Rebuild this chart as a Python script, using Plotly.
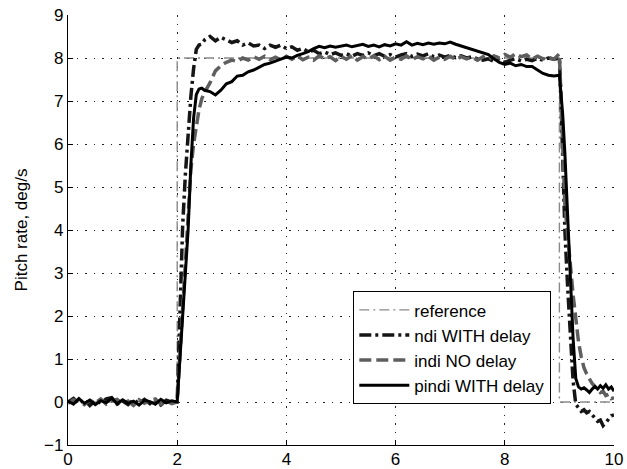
import plotly.graph_objects as go

# time base (s)
t = [0.0, 0.1, 0.2, 0.3, 0.4, 0.5, 0.6, 0.7, 0.8, 0.9,
     1.0, 1.1, 1.2, 1.3, 1.4, 1.5, 1.6, 1.7, 1.8, 1.9,
     2.0, 2.05, 2.1, 2.15, 2.2, 2.25, 2.3, 2.35, 2.4, 2.45, 2.5,
     2.6, 2.7, 2.8, 2.9, 3.0, 3.1, 3.2, 3.3, 3.4, 3.5, 3.6, 3.7, 3.8, 3.9,
     4.0, 4.1, 4.2, 4.3, 4.4, 4.5, 4.6, 4.7, 4.8, 4.9,
     5.0, 5.1, 5.2, 5.3, 5.4, 5.5, 5.6, 5.7, 5.8, 5.9,
     6.0, 6.1, 6.2, 6.3, 6.4, 6.5, 6.6, 6.7, 6.8, 6.9,
     7.0, 7.1, 7.2, 7.3, 7.4, 7.5, 7.6, 7.7, 7.8, 7.9,
     8.0, 8.1, 8.2, 8.3, 8.4, 8.5, 8.6, 8.7, 8.8, 8.9,
     9.0, 9.03, 9.06, 9.1, 9.15, 9.2, 9.25, 9.3, 9.35, 9.4, 9.45, 9.5,
     9.55, 9.6, 9.65, 9.7, 9.75, 9.8, 9.85, 9.9, 9.95, 10.0]

# reference command
t_ref = [0.0, 2.0, 2.0, 9.0, 9.0, 10.0]
q_ref = [0.0, 0.0, 8.0, 8.0, 0.0, 0.0]

# ndi WITH delay
q_ndi = [0.0, 0.08, -0.04, 0.06, -0.08, 0.03, -0.02, 0.07, 0.1, -0.05,
         0.02, -0.06, 0.05, -0.03, 0.06, -0.04, 0.03, -0.07, 0.04, 0.0,
         0.0, 2.0, 4.1, 5.3, 6.3, 7.1, 7.75, 8.2, 8.3, 8.32, 8.42,
         8.5, 8.4, 8.48, 8.42, 8.36, 8.4, 8.3, 8.35, 8.28, 8.3, 8.22, 8.3, 8.25, 8.3,
         8.22, 8.26, 8.18, 8.22, 8.15, 8.18, 8.1, 8.14, 8.08, 8.12,
         8.06, 8.1, 8.04, 8.1, 8.06, 8.12, 8.05, 8.1, 8.04, 8.08,
         8.02, 8.07, 8.1, 8.04, 8.09, 8.05, 8.1, 8.03, 8.07, 8.02,
         8.06, 8.01, 8.05, 8.0, 8.03, 7.98, 7.95, 7.98, 7.92, 7.96,
         7.9, 7.95, 7.98, 7.93, 7.97, 7.94, 7.99, 7.95, 8.0, 7.97,
         8.0, 7.0, 5.6, 4.0, 2.7, 1.5, 0.5, -0.05, -0.15, -0.22, -0.18, -0.25,
         -0.22, -0.3, -0.38, -0.45, -0.42, -0.55, -0.48, -0.4, -0.32, -0.3]

# indi NO delay
q_indi = [-0.03, 0.05, 0.02, -0.06, 0.04, -0.02, 0.07, -0.05, 0.03, 0.06,
          -0.04, 0.02, -0.08, 0.05, -0.03, 0.04, 0.07, -0.05, 0.02, -0.04,
          0.0, 1.1, 2.3, 3.4, 4.5, 5.4, 6.0, 6.45, 6.8, 7.05, 7.2,
          7.42, 7.7, 7.82, 7.9, 7.95, 7.92, 8.0, 7.95, 8.03, 7.97, 8.04, 7.96, 8.02, 7.95,
          8.04, 7.97, 8.05, 7.96, 8.02, 7.95, 8.05, 7.98, 8.03, 7.94,
          8.04, 7.97, 8.06, 7.95, 8.03, 7.98, 8.05, 7.96, 8.04, 7.95,
          8.02, 7.97, 8.05, 7.96, 8.03, 7.98, 8.04, 7.95, 8.02, 7.97,
          8.04, 7.96, 8.03, 7.98, 8.02, 7.95, 8.03, 7.97, 8.05, 8.0,
          8.08, 8.02, 8.1, 8.03, 8.07, 7.98, 8.04, 7.98, 8.02, 7.97,
          8.1, 6.9, 5.6, 4.6, 3.9, 3.1, 2.5, 1.95, 1.4, 1.05, 0.8, 0.65,
          0.52, 0.43, 0.36, 0.3, 0.22, 0.25, 0.15, 0.18, 0.08, 0.1]

# pindi WITH delay
q_pindi = [0.02, -0.05, 0.08, -0.03, 0.04, -0.06, 0.03, -0.02, 0.09, -0.04,
           0.05, -0.03, 0.02, -0.07, 0.04, 0.01, -0.05, 0.06, -0.02, 0.03,
           0.0, 0.9, 2.0, 3.0, 4.0, 5.5, 6.6, 7.15, 7.28, 7.3, 7.25,
           7.22, 7.14, 7.25, 7.4, 7.45, 7.58, 7.6, 7.68, 7.72, 7.78, 7.85, 7.88, 7.93, 7.98,
           8.02, 8.0, 8.06, 8.1, 8.15, 8.22, 8.27, 8.24, 8.28, 8.25,
           8.27, 8.3, 8.26, 8.29, 8.32, 8.27, 8.3, 8.26, 8.31, 8.28,
           8.33, 8.3, 8.38, 8.3, 8.34, 8.31, 8.35, 8.32, 8.35, 8.33,
           8.37, 8.32, 8.28, 8.25, 8.2, 8.16, 8.12, 8.08, 7.98, 7.9,
           7.85, 7.88, 7.82, 7.85, 7.8, 7.8, 7.72, 7.64, 7.6, 7.58,
           7.6, 7.2, 6.7, 5.8, 4.3, 2.85, 1.5, 0.55, 0.35, 0.3, 0.33, 0.28,
           0.22, 0.3, 0.36, 0.3, 0.38, 0.32, 0.4, 0.3, 0.35, 0.25]

x_ticks = [0, 2, 4, 6, 8, 10]
y_ticks = [-1, 0, 1, 2, 3, 4, 5, 6, 7, 8, 9]
y_title = "Pitch rate, deg/s"

FONT = "Liberation Sans, Arial, Helvetica, sans-serif"

fig = go.Figure()
fig.add_trace(go.Scatter(x=t_ref, y=q_ref, mode="lines", name="reference",
                         line=dict(color="#8a8a8a", width=1.4, dash="10px,4px,2px,4px")))
fig.add_trace(go.Scatter(x=t, y=q_ndi, mode="lines", name="ndi WITH delay",
                         line=dict(color="#151515", width=3.5, dash="12px,4px,3px,4px")))
fig.add_trace(go.Scatter(x=t, y=q_indi, mode="lines", name="indi NO delay",
                         line=dict(color="#5e5e5e", width=3.5, dash="12px,5px")))
fig.add_trace(go.Scatter(x=t, y=q_pindi, mode="lines", name="pindi WITH delay",
                         line=dict(color="#000000", width=3)))

grid = dict(showgrid=True, gridcolor="#222222", gridwidth=1, griddash="1.5px,7px",
            zeroline=False, showline=True, linecolor="black", linewidth=1.2,
            ticks="inside", ticklen=5, tickcolor="black", automargin=False,
            tickfont=dict(family=FONT, size=17, color="black"))

fig.update_xaxes(range=[0, 10], tickvals=x_ticks, ticklabelstandoff=-2, **grid)
fig.update_yaxes(range=[-1, 9], tickvals=y_ticks, title=dict(text=y_title, standoff=12,
                 font=dict(family=FONT, size=17, color="black")), **grid)

fig.update_layout(
    width=627, height=469,
    margin=dict(l=68, r=13, t=15, b=24),
    paper_bgcolor="white", plot_bgcolor="white",
    font=dict(family=FONT, color="black"),
    showlegend=True,
    legend=dict(x=0.522, y=0.358, xanchor="left", yanchor="top",
                bgcolor="white", bordercolor="black", borderwidth=1.3,
                font=dict(family=FONT, size=17, color="black"),
                itemwidth=50, tracegroupgap=0),
)

fig.write_html("out.html", config={"displayModeBar": False},
               post_script="document.body.style.margin='0';document.body.style.overflow='hidden';")
